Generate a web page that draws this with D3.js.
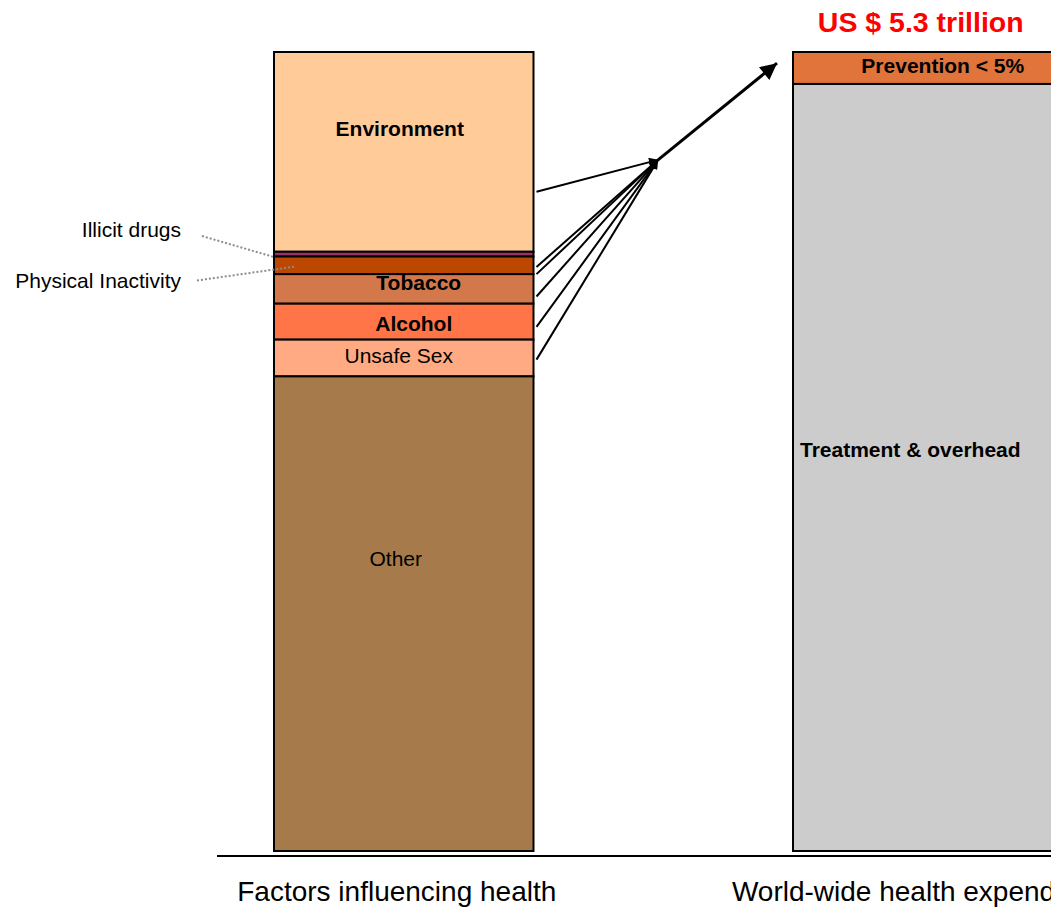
<!DOCTYPE html>
<html>
<head>
<meta charset="utf-8">
<script src="https://cdn.jsdelivr.net/npm/d3@7/dist/d3.min.js"></script>
<style>
  html, body { margin: 0; padding: 0; background: #fff; }
  svg { display: block; font-family: "Liberation Sans", Arial, sans-serif; }
</style>
</head>
<body>
<svg id="chart" width="1051" height="908"></svg>
<script>
// ---- data ----
const categories = ["Factors influencing health", "World-wide health expenditure"];

const factorNames  = ["Environment", "Illicit drugs", "Physical Inactivity", "Tobacco", "Alcohol", "Unsafe Sex", "Other"];
const factorValues = [25.0, 0.6, 2.2, 3.7, 4.5, 4.6, 59.4];
const factorColors = ["#FFCC99", "#993366", "#BB4700", "#D2784A", "#FF7548", "#FFAA82", "#A67A4A"];
const factorInside = [true, false, false, true, true, true, true];
const factorBold   = [true, false, false, true, true, false, false];

const spendNames  = ["Prevention < 5%", "Treatment & overhead"];
const spendValues = [4, 96];
const spendColors = ["#E0743A", "#CCCCCC"];

const totalLabel = "US $ 5.3 trillion";

// arrow start levels (percent of bar, measured from bottom)
const arrowLevels = [82.5, 73.1, 72.2, 69.4, 65.6, 61.5];
const convergeLevel = 86.5;
const tipLevel = 98.6;

// ---- layout ----
const svg = d3.select("#chart");
const x = d3.scaleBand().domain(categories).range([274, 1052.5]).paddingInner(0.5).paddingOuter(0);
const y = d3.scaleLinear().domain([0, 100]).range([851, 52]);

function stackTop(values) {
  let cum = 0;
  return values.map(v => { const top = 100 - cum; cum += v; return { top, bottom: 100 - cum, v }; });
}

const fStack = stackTop(factorValues);
const sStack = stackTop(spendValues);

const x0 = x(categories[0]), x1 = x(categories[1]), bw = x.bandwidth();

// baseline
svg.append("line")
  .attr("x1", x0 - 57).attr("x2", 1051)
  .attr("y1", y(0) + 5).attr("y2", y(0) + 5)
  .attr("stroke", "#000").attr("stroke-width", 2);

// factor segments
svg.append("g").selectAll("rect").data(fStack).join("rect")
  .attr("x", x0).attr("width", bw)
  .attr("y", d => y(d.top)).attr("height", d => y(d.bottom) - y(d.top))
  .attr("fill", (d, i) => factorColors[i])
  .attr("stroke", "#000").attr("stroke-width", 2);

// spend segments
svg.append("g").selectAll("rect").data(sStack).join("rect")
  .attr("x", x1).attr("width", bw)
  .attr("y", d => y(d.top)).attr("height", d => y(d.bottom) - y(d.top))
  .attr("fill", (d, i) => spendColors[i])
  .attr("stroke", "#000").attr("stroke-width", 2);

// labels inside factor bar
const insideFrac = [0.42, 0, 0, 0.54, 0.75, 0.625, 0.40];
const insideDx   = [-4, 0, 0, 15, 10, -5, -8];
svg.append("g").selectAll("text")
  .data(fStack.map((d, i) => ({ ...d, i })).filter(d => factorInside[d.i]))
  .join("text")
  .attr("x", d => x0 + bw / 2 + insideDx[d.i])
  .attr("y", d => y(d.top) + (y(d.bottom) - y(d.top)) * insideFrac[d.i])
  .attr("text-anchor", "middle")
  .attr("font-size", 21)
  .attr("font-weight", d => factorBold[d.i] ? "bold" : "normal")
  .attr("fill", "#000")
  .text(d => factorNames[d.i]);

// outside labels with dotted leaders
const outside = [
  { i: 1, ty: 236.7, lx1: 202, ly1: 236, lx2: x0 - 1, ly2: y(fStack[1].top) + 5 },
  { i: 2, ty: 288.3, lx1: 197, ly1: 280.5, lx2: x0 + 21, ly2: y(fStack[2].top) + 10 }
];
outside.forEach(o => {
  svg.append("text")
    .attr("x", 181).attr("y", o.ty)
    .attr("text-anchor", "end").attr("font-size", 21).attr("fill", "#000")
    .text(factorNames[o.i]);
  svg.append("line")
    .attr("x1", o.lx1).attr("y1", o.ly1).attr("x2", o.lx2).attr("y2", o.ly2)
    .attr("stroke", "#8c8c8c").attr("stroke-width", 2).attr("stroke-dasharray", "2,2");
});

// spend labels
svg.append("text")
  .attr("x", x1 + bw / 2 + 20)
  .attr("y", y(sStack[0].top) + (y(sStack[0].bottom) - y(sStack[0].top)) * 0.67)
  .attr("text-anchor", "middle").attr("font-size", 21).attr("font-weight", "bold")
  .text(spendNames[0]);
svg.append("text")
  .attr("x", x1 + 7)
  .attr("y", y(sStack[1].top) + (y(sStack[1].bottom) - y(sStack[1].top)) * 0.486)
  .attr("text-anchor", "start").attr("font-size", 21).attr("font-weight", "bold")
  .text(spendNames[1]);

// total label
svg.append("text")
  .attr("x", x1 + bw / 2 - 2).attr("y", 32)
  .attr("text-anchor", "middle").attr("font-size", 28.5).attr("font-weight", "bold")
  .attr("fill", "#FF0000")
  .text(totalLabel);

// category labels
const catDx = [-7, -2];
svg.append("g").selectAll("text").data(categories).join("text")
  .attr("x", (d, i) => x(d) + bw / 2 + catDx[i])
  .attr("y", 901)
  .attr("text-anchor", "middle").attr("font-size", 28).attr("fill", "#000")
  .text(d => d);

// arrows
const defs = svg.append("defs");
defs.append("marker").attr("id", "sm")
  .attr("viewBox", "0 0 10 10").attr("refX", 10).attr("refY", 5)
  .attr("markerWidth", 6).attr("markerHeight", 4.5).attr("markerUnits", "strokeWidth")
  .attr("orient", "auto")
  .append("path").attr("d", "M0,0 L10,5 L0,10 Z").attr("fill", "#000");
defs.append("marker").attr("id", "big")
  .attr("viewBox", "0 0 10 10").attr("refX", 10).attr("refY", 5)
  .attr("markerWidth", 7).attr("markerHeight", 5.5).attr("markerUnits", "strokeWidth")
  .attr("orient", "auto")
  .append("path").attr("d", "M0,0 L10,5 L0,10 Z").attr("fill", "#000");

const gap = x1 - (x0 + bw);
const cx = x0 + bw + gap * 0.48;
const cy = y(convergeLevel);

svg.append("g").selectAll("line").data(arrowLevels).join("line")
  .attr("x1", x0 + bw + 3).attr("y1", d => y(d))
  .attr("x2", cx).attr("y2", cy)
  .attr("stroke", "#000").attr("stroke-width", 2)
  .attr("marker-end", "url(#sm)");

svg.append("line")
  .attr("x1", cx).attr("y1", cy)
  .attr("x2", x1 - 16).attr("y2", y(tipLevel))
  .attr("stroke", "#000").attr("stroke-width", 3)
  .attr("marker-end", "url(#big)");
</script>
</body>
</html>
